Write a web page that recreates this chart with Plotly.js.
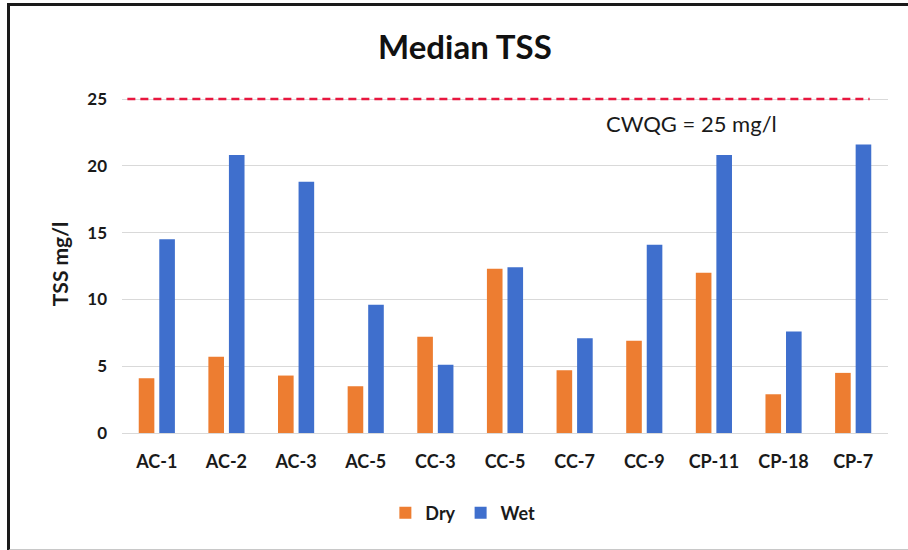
<!DOCTYPE html>
<html>
<head>
<meta charset="utf-8">
<script src="https://cdn.plot.ly/plotly-3.0.1.min.js"></script>
<style>
  html, body { margin: 0; padding: 0; background: #fff; }
  #wrap { position: relative; width: 908px; height: 550px; overflow: hidden; }
  #chart { position: absolute; left: 0; top: 0; width: 908px; height: 550px; }
  #frame {
    position: absolute; left: 7px; top: 3px; width: 910px; height: 543px;
    border-left: 3px solid #1a1a1a; border-top: 3px solid #1a1a1a;
    border-bottom: 2px solid #c8c8c8; pointer-events: none;
  }
</style>
</head>
<body>
<div id="wrap">
  <div id="chart"></div>
  <div id="frame"></div>
</div>
<script>
// Monitoring sites
const sites = ["AC-1", "AC-2", "AC-3", "AC-5", "CC-3", "CC-5", "CC-7", "CC-9", "CP-11", "CP-18", "CP-7"];
// Median total suspended solids, mg/l
const dryTSS = [4.1, 5.7, 4.3, 3.5, 7.2, 12.3, 4.7, 6.9, 12.0, 2.9, 4.5];
const wetTSS = [14.5, 20.8, 18.8, 9.6, 5.1, 12.4, 7.1, 14.1, 20.8, 7.6, 21.6];
// Water quality guideline
const cwqg = 25;
const cwqgLabel = "CWQG = 25 mg/l";
const yTicks = [0, 5, 10, 15, 20, 25];

const font = "Lato, 'Open Sans', sans-serif";

const traces = [
  { type: "bar", name: "Dry", x: sites, y: dryTSS, marker: { color: "#ED7D31" } },
  { type: "bar", name: "Wet", x: sites, y: wetTSS, marker: { color: "#3F6FCD" } }
];

const layout = {
  width: 908, height: 550,
  margin: { l: 122, r: 20, t: 95, b: 117 },
  paper_bgcolor: "#ffffff", plot_bgcolor: "#ffffff",
  barmode: "group", bargap: 0.41, bargroupgap: 0.24,
  font: { family: font, color: "#1a1a1a" },
  title: {
    text: "<b>Median TSS</b>",
    font: { family: font, size: 33, color: "#111" },
    x: 0.512, xref: "container", xanchor: "center",
    y: 0.913, yref: "container", yanchor: "middle"
  },
  xaxis: {
    type: "category", showgrid: false, zeroline: false, showline: false,
    ticks: "", ticklabelstandoff: 16,
    tickfont: { family: font, size: 18, color: "#1a1a1a", weight: "bold" }
  },
  yaxis: {
    range: [0, 25.3], tickvals: yTicks, showgrid: true, gridcolor: "#d9d9d9", gridwidth: 1,
    zeroline: true, zerolinecolor: "#d9d9d9", zerolinewidth: 1, showline: false,
    ticks: "", ticklabelstandoff: 14,
    tickfont: { family: font, size: 17, color: "#1a1a1a", weight: "bold" },
    title: { text: "<b>TSS mg/l</b>", standoff: 12, font: { family: font, size: 21, color: "#1a1a1a" } }
  },
  showlegend: true,
  legend: {
    orientation: "h", x: 0.445, xanchor: "center", y: -0.237, yanchor: "middle",
    font: { family: font, size: 18, color: "#1a1a1a", weight: "bold" },
    itemwidth: 30, traceorder: "normal"
  },
  shapes: [
    { type: "line", xref: "paper", yref: "y", x0: 0.007, x1: 0.976, y0: cwqg, y1: cwqg,
      line: { color: "#E8173F", width: 2.5, dash: "8px,5px" } }
  ],
  annotations: [
    { text: cwqgLabel, xref: "paper", yref: "y", x: 0.744, y: cwqg - 1.8,
      xanchor: "center", yanchor: "middle", showarrow: false,
      font: { family: font, size: 22, color: "#1a1a1a" } }
  ]
};

Plotly.newPlot("chart", traces, layout, { displayModeBar: false, staticPlot: true });
</script>
</body>
</html>
